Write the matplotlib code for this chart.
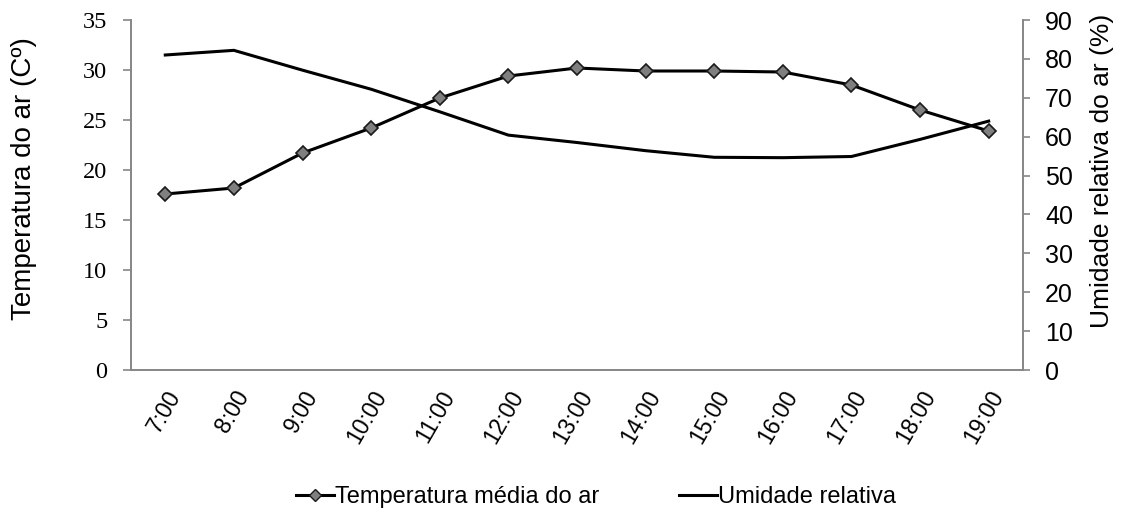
import matplotlib
matplotlib.use("Agg")
import matplotlib.pyplot as plt
from matplotlib.lines import Line2D

hours = ["7:00", "8:00", "9:00", "10:00", "11:00", "12:00", "13:00",
         "14:00", "15:00", "16:00", "17:00", "18:00", "19:00"]
temperatura = [17.6, 18.2, 21.7, 24.2, 27.2, 29.4, 30.2, 29.9, 29.9, 29.8, 28.5, 26.0, 23.9]
umidade = [81.0, 82.2, 77.1, 72.2, 66.4, 60.4, 58.5, 56.4, 54.7, 54.6, 54.9, 59.3, 64.0]
temp_ticks = list(range(0, 36, 5))
umid_ticks = list(range(0, 91, 10))

SANS = "Liberation Sans"
SERIF = "Liberation Serif"
GRAY = "#868686"

fig = plt.figure(figsize=(11.31, 5.25), dpi=100)
ax = fig.add_axes([0.1158, 0.2952, 0.7887, 0.6667])
ax2 = ax.twinx()

x = list(range(len(hours)))
ax.plot(x, temperatura, color="black", lw=2.2, marker="D", ms=7.5,
        mfc="#7f7f7f", mec="#1a1a1a", mew=1.2, zorder=3)
ax2.plot(x, umidade, color="black", lw=2.2, zorder=2)

ax.set_xlim(-0.5, len(hours) - 0.5)
ax.set_ylim(0, 35)
ax.set_yticks(temp_ticks, [str(v) for v in temp_ticks], fontsize=17.5, family=SERIF)
ax2.set_ylim(0, 90)
ax2.set_yticks(umid_ticks, [str(v) for v in umid_ticks], fontsize=18, family=SANS)

ax.set_xticks(x, hours, rotation=60, ha="right", rotation_mode="anchor",
              fontsize=16.5, family=SANS)
ax.tick_params(axis="x", length=0, pad=12)

for a in (ax, ax2):
    a.spines["top"].set_visible(False)
    for s in ("left", "right", "bottom"):
        a.spines[s].set_color(GRAY)
        a.spines[s].set_linewidth(1.2)
    a.patch.set_alpha(0)

ax.tick_params(axis="y", direction="out", length=6, color=GRAY, width=1.2, pad=11)
ax2.tick_params(axis="y", direction="out", length=5, color=GRAY, width=1.2, pad=11)

ax.set_ylabel("Temperatura do ar (Cº)", fontsize=20, family=SANS)
ax.yaxis.set_label_coords(-0.105, 0.546)
ax2.set_ylabel("Umidade relativa do ar (%)", fontsize=19, family=SANS)
ax2.yaxis.set_label_coords(1.075, 0.57)

handles = [
    Line2D([], [], color="black", lw=2.2, marker="D", ms=6.5,
           mfc="#7f7f7f", mec="#1a1a1a", mew=1.0),
    Line2D([], [], color="black", lw=2.2),
]
fig.legend(handles, ["Temperatura média do ar", "Umidade relativa"],
           loc="center", bbox_to_anchor=(0.527, 0.053), ncol=2, frameon=False,
           prop={"family": SANS, "size": 17}, handlelength=1.6,
           handletextpad=0.05, columnspacing=3.4)

fig.savefig("out.png", dpi=100)
